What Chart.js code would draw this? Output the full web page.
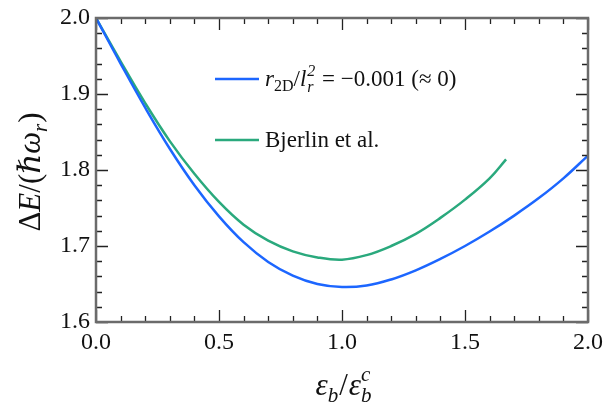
<!DOCTYPE html>
<html>
<head>
<meta charset="utf-8">
<script src="https://cdn.jsdelivr.net/npm/chart.js@4"></script>
<style>
  html, body { margin: 0; padding: 0; background: #fff; }
  #wrap { width: 603px; height: 407px; }
</style>
</head>
<body>
<div id="wrap"><canvas id="gapChart"></canvas></div>
<script>
// datos
const xBlue = [0.0, 0.1, 0.2, 0.3, 0.4, 0.5, 0.6, 0.7, 0.8, 0.9, 1.0, 1.1, 1.2, 1.3, 1.4, 1.5, 1.6, 1.7, 1.8, 1.9, 2.0];
const yBlue = [2.000, 1.940, 1.882, 1.828, 1.780, 1.739, 1.705, 1.679, 1.661, 1.650, 1.646, 1.648, 1.656, 1.668, 1.683, 1.700, 1.719, 1.740, 1.763, 1.789, 1.819];
const xGreen = [0.0, 0.1, 0.2, 0.3, 0.4, 0.5, 0.6, 0.7, 0.8, 0.9, 1.0, 1.1, 1.2, 1.3, 1.4, 1.5, 1.6, 1.667];
const yGreen = [2.000, 1.943, 1.888, 1.838, 1.795, 1.758, 1.728, 1.707, 1.693, 1.685, 1.682, 1.688, 1.700, 1.716, 1.737, 1.761, 1.789, 1.814];
const xTicks = [0.0, 0.5, 1.0, 1.5, 2.0];
const yTicks = [1.6, 1.7, 1.8, 1.9, 2.0];
const xMinorStep = 0.1;
const yMinorStep = 0.02;

const blue = '#1c66ff';
const green = '#2aa97d';
const serif = '"Liberation Serif", "DejaVu Serif", serif';

function pts(xs, ys) {
  return xs.map((x, i) => ({ x: x, y: ys[i] }));
}

// texto con subindices / superindices
function richWidth(ctx, segs) {
  let w = 0;
  segs.forEach(s => {
    if (s.sub !== undefined || s.sup !== undefined) {
      ctx.font = (s.style || '') + ' ' + s.size + 'px ' + serif;
      const a = s.sub ? ctx.measureText(s.sub).width : 0;
      ctx.font = (s.supStyle || s.style || '') + ' ' + s.size + 'px ' + serif;
      const b = s.sup ? ctx.measureText(s.sup).width : 0;
      w += Math.max(a, b) + 1;
    } else {
      ctx.font = (s.style || '') + ' ' + s.size + 'px ' + serif;
      w += ctx.measureText(s.t).width + (s.gap || 0);
    }
  });
  return w;
}

function drawRich(ctx, segs, x, y) {
  let cx = x;
  ctx.textBaseline = 'alphabetic';
  ctx.textAlign = 'left';
  segs.forEach(s => {
    if (s.sub !== undefined || s.sup !== undefined) {
      let a = 0, b = 0;
      if (s.sub) {
        ctx.font = (s.style || '') + ' ' + s.size + 'px ' + serif;
        ctx.fillText(s.sub, cx, y + s.subDy);
        a = ctx.measureText(s.sub).width;
      }
      if (s.sup) {
        ctx.font = (s.supStyle || s.style || '') + ' ' + s.size + 'px ' + serif;
        ctx.fillText(s.sup, cx, y + s.supDy);
        b = ctx.measureText(s.sup).width;
      }
      cx += Math.max(a, b) + 1;
    } else {
      ctx.font = (s.style || '') + ' ' + s.size + 'px ' + serif;
      ctx.fillText(s.t, cx, y + (s.dy || 0));
      cx += ctx.measureText(s.t).width + (s.gap || 0);
    }
  });
}

const framePlugin = {
  id: 'frame',
  afterDraw(chart) {
    const ctx = chart.ctx;
    const a = chart.chartArea;
    const xs = chart.scales.x, ys = chart.scales.y;
    ctx.save();

    // ticks hacia adentro en los cuatro lados
    ctx.strokeStyle = '#222';
    ctx.lineWidth = 1.3;
    ctx.beginPath();
    for (let v = xs.min; v <= xs.max + 1e-9; v += xMinorStep) {
      const major = xTicks.some(t => Math.abs(t - v) < 1e-6);
      const len = major ? 12 : 6;
      const px = Math.round(xs.getPixelForValue(v)) + 0.5;
      ctx.moveTo(px, a.bottom); ctx.lineTo(px, a.bottom - len);
      ctx.moveTo(px, a.top); ctx.lineTo(px, a.top + len);
    }
    for (let v = ys.min; v <= ys.max + 1e-9; v += yMinorStep) {
      const major = yTicks.some(t => Math.abs(t - v) < 1e-6);
      const len = major ? 12 : 6;
      const py = Math.round(ys.getPixelForValue(v)) + 0.5;
      ctx.moveTo(a.left, py); ctx.lineTo(a.left + len, py);
      ctx.moveTo(a.right, py); ctx.lineTo(a.right - len, py);
    }
    ctx.stroke();

    // marco
    ctx.strokeStyle = '#6b6b6b';
    ctx.lineWidth = 2.5;
    ctx.strokeRect(a.left, a.top, a.right - a.left, a.bottom - a.top);

    ctx.fillStyle = '#111';

    // titulo eje x
    const xt = [
      { t: 'ε', style: 'italic', size: 31 },
      { sub: 'b', style: 'italic', size: 21, subDy: 7 },
      { t: '/', size: 31, gap: 1 },
      { t: 'ε', style: 'italic', size: 31 },
      { sub: 'b', sup: 'c', style: 'italic', size: 21, subDy: 7, supDy: -14 }
    ];
    const xw = richWidth(ctx, xt);
    drawRich(ctx, xt, (a.left + a.right) / 2 - xw / 2 + 2, 395);

    // titulo eje y
    const yt = [
      { t: 'Δ', size: 31 },
      { t: 'E', style: 'italic', size: 31 },
      { t: '/(', size: 31 },
      { t: 'ℏω', style: 'italic', size: 31 },
      { t: 'r', style: 'italic', size: 21, dy: 7, gap: 1 },
      { t: ')', size: 31 }
    ];
    const yw = richWidth(ctx, yt);
    ctx.save();
    ctx.translate(40, (a.top + a.bottom) / 2 + 2);
    ctx.rotate(-Math.PI / 2);
    drawRich(ctx, yt, -yw / 2, 0);
    ctx.restore();

    // leyenda
    const legend = [
      { color: blue, y: 79, segs: [
        { t: 'r', style: 'italic', size: 23 },
        { t: '2D', size: 16, dy: 5 },
        { t: '/', size: 23 },
        { t: 'l', style: 'italic', size: 23, gap: 1 },
        { sub: 'r', sup: '2', style: 'italic', supStyle: '', size: 16, subDy: 6, supDy: -10 },
        { t: ' = −0.001 (≈ 0)', size: 23 }
      ] },
      { color: green, y: 140, segs: [
        { t: 'Bjerlin et al.', size: 23 }
      ] }
    ];
    legend.forEach(item => {
      ctx.strokeStyle = item.color;
      ctx.lineWidth = 2.5;
      ctx.beginPath();
      ctx.moveTo(215, item.y);
      ctx.lineTo(259, item.y);
      ctx.stroke();
      drawRich(ctx, item.segs, 265, item.y + 7);
    });

    ctx.restore();
  }
};

const ctx = document.getElementById('gapChart').getContext('2d');
new Chart(ctx, {
  type: 'scatter',
  data: {
    datasets: [
      {
        label: 'r2D/lr^2 = -0.001',
        data: pts(xBlue, yBlue),
        borderColor: blue,
        backgroundColor: blue,
        borderWidth: 2.5,
        showLine: true,
        pointRadius: 0,
        tension: 0.4
      },
      {
        label: 'Bjerlin et al.',
        data: pts(xGreen, yGreen),
        borderColor: green,
        backgroundColor: green,
        borderWidth: 2.5,
        showLine: true,
        pointRadius: 0,
        tension: 0.4
      }
    ]
  },
  options: {
    responsive: true,
    maintainAspectRatio: false,
    animation: false,
    layout: { padding: { left: 0, right: 15, top: 18, bottom: 0 } },
    plugins: {
      legend: { display: false },
      tooltip: { enabled: false }
    },
    scales: {
      x: {
        type: 'linear',
        min: 0,
        max: 2,
        afterBuildTicks: s => { s.ticks = xTicks.map(v => ({ value: v })); },
        ticks: {
          callback: v => Number(v).toFixed(1),
          font: { family: serif, size: 24 },
          color: '#111',
          padding: 6,
          maxRotation: 0
        },
        grid: { display: false, drawTicks: false },
        border: { display: false },
        afterFit: s => { s.height = 85; s.paddingLeft = 0; s.paddingRight = 0; }
      },
      y: {
        type: 'linear',
        min: 1.6,
        max: 2.0,
        afterBuildTicks: s => { s.ticks = yTicks.map(v => ({ value: v })); },
        ticks: {
          callback: v => Number(v).toFixed(1),
          font: { family: serif, size: 24 },
          color: '#111',
          padding: 6
        },
        grid: { display: false, drawTicks: false },
        border: { display: false },
        afterFit: s => { s.width = 96; s.paddingTop = 0; s.paddingBottom = 0; }
      }
    }
  },
  plugins: [framePlugin]
});
</script>
</body>
</html>
